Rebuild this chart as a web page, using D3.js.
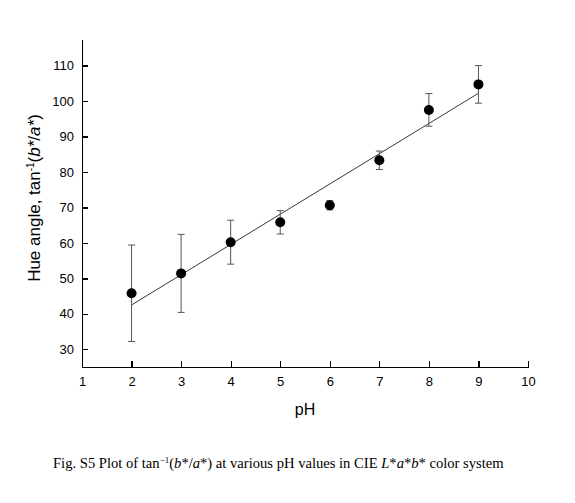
<!DOCTYPE html>
<html>
<head>
<meta charset="utf-8">
<style>
body { margin: 0; background: #fff; }
.axis path, .axis line { fill: none; stroke: #000; stroke-width: 1.3; shape-rendering: crispEdges; }
.axis text { font-family: "Liberation Sans", Arial, sans-serif; font-size: 13px; fill: #000; }
</style>
<script src="https://d3js.org/d3.v7.min.js"></script>
</head>
<body>
<div id="chart"></div>
<script>
    // values
    var pH = [2, 3, 4, 5, 6, 7, 8, 9];
    var hue = [45.8, 51.4, 60.2, 65.8, 70.6, 83.3, 97.5, 104.7];
    var err = [13.6, 11.0, 6.2, 3.3, 1.3, 2.6, 4.6, 5.3];
    var fitLine = [[2, 42.5], [9, 102.2]];
    var xTicks = [1, 2, 3, 4, 5, 6, 7, 8, 9, 10];
    var yTicks = [30, 40, 50, 60, 70, 80, 90, 100, 110];

    var W = 575, H = 503;
    var margin = {top: 39, right: 47, bottom: 136, left: 82},
        width = W - margin.left - margin.right,
        height = H - margin.top - margin.bottom;

    var svg = d3.select("#chart")
        .append("svg")
        .attr("width", W)
        .attr("height", H);

    var g = svg.append("g")
        .attr("transform", "translate(" + margin.left + "," + margin.top + ")");

    var x = d3.scaleLinear().domain([1, 10]).range([0, width]);
    var y = d3.scaleLinear().domain([25, 117.5]).range([height, 0]);

    // axes, ticks pointing inward
    g.append("g")
        .attr("class", "axis")
        .attr("transform", "translate(0," + height + ")")
        .call(d3.axisBottom(x).tickValues(xTicks).tickSizeInner(-6).tickSizeOuter(0).tickPadding(10));

    g.append("g")
        .attr("class", "axis")
        .call(d3.axisLeft(y).tickValues(yTicks).tickSizeInner(-6).tickSizeOuter(0).tickPadding(8));

    // fit line
    g.append("line")
        .attr("x1", x(fitLine[0][0])).attr("y1", y(fitLine[0][1]))
        .attr("x2", x(fitLine[1][0])).attr("y2", y(fitLine[1][1]))
        .attr("stroke", "#222")
        .attr("stroke-width", 0.9);

    var data = pH.map(function(p, i) { return {x: p, y: hue[i], e: err[i]}; });

    // error bars
    var eb = g.append("g").selectAll("g")
        .data(data)
        .enter().append("g")
        .attr("stroke", "#555")
        .attr("stroke-width", 1);

    eb.append("line")
        .attr("x1", function(d) { return x(d.x); })
        .attr("x2", function(d) { return x(d.x); })
        .attr("y1", function(d) { return y(d.y - d.e); })
        .attr("y2", function(d) { return y(d.y + d.e); });
    eb.append("line")
        .attr("x1", function(d) { return x(d.x) - 3.5; })
        .attr("x2", function(d) { return x(d.x) + 3.5; })
        .attr("y1", function(d) { return y(d.y + d.e); })
        .attr("y2", function(d) { return y(d.y + d.e); });
    eb.append("line")
        .attr("x1", function(d) { return x(d.x) - 3.5; })
        .attr("x2", function(d) { return x(d.x) + 3.5; })
        .attr("y1", function(d) { return y(d.y - d.e); })
        .attr("y2", function(d) { return y(d.y - d.e); });

    // dots
    g.append("g").selectAll("circle")
        .data(data)
        .enter().append("circle")
        .attr("cx", function(d) { return x(d.x); })
        .attr("cy", function(d) { return y(d.y); })
        .attr("r", 5)
        .attr("fill", "#000");

    // x label
    g.append("text")
        .attr("x", x(5.5))
        .attr("y", height + 48)
        .attr("text-anchor", "middle")
        .style("font-family", "'Liberation Sans', Arial, sans-serif")
        .style("font-size", "16px")
        .text("pH");

    // y label
    var yl = svg.append("text")
        .attr("transform", "translate(40," + 198 + ") rotate(-90)")
        .attr("text-anchor", "middle")
        .style("font-family", "'Liberation Sans', Arial, sans-serif")
        .style("font-size", "17px");
    yl.append("tspan").text("Hue angle, tan");
    yl.append("tspan").attr("dy", -6).style("font-size", "10px").text("-1");
    yl.append("tspan").attr("dy", 6).text("(");
    yl.append("tspan").style("font-style", "italic").text("b*");
    yl.append("tspan").text("/");
    yl.append("tspan").style("font-style", "italic").text("a*");
    yl.append("tspan").text(")");

    // caption
    var cap = svg.append("text")
        .attr("x", 53)
        .attr("y", 468)
        .style("font-family", "'Liberation Serif', 'Times New Roman', serif")
        .style("font-size", "14.6px");
    cap.append("tspan").text("Fig. S5 Plot of tan");
    cap.append("tspan").attr("dy", -5).style("font-size", "9px").text("\u22121");
    cap.append("tspan").attr("dy", 5).text("(");
    cap.append("tspan").style("font-style", "italic").text("b");
    cap.append("tspan").text("*/");
    cap.append("tspan").style("font-style", "italic").text("a");
    cap.append("tspan").text("*) at various pH values in CIE ");
    cap.append("tspan").style("font-style", "italic").text("L");
    cap.append("tspan").text("*");
    cap.append("tspan").style("font-style", "italic").text("a");
    cap.append("tspan").text("*");
    cap.append("tspan").style("font-style", "italic").text("b");
    cap.append("tspan").text("* color system");
</script>
</body>
</html>
